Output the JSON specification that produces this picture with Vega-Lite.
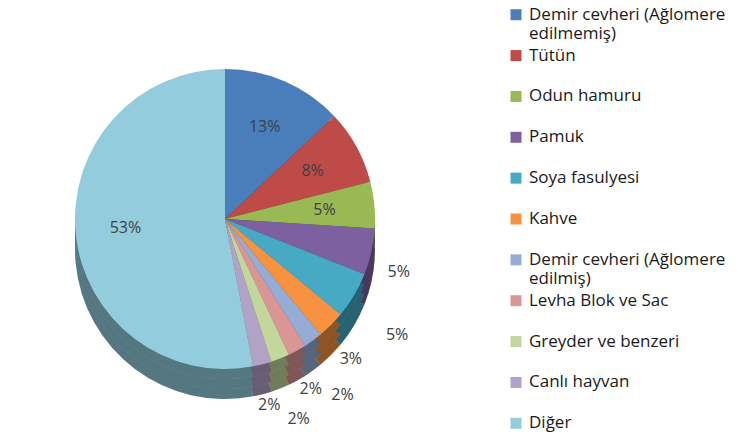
{
  "$schema": "https://vega.github.io/schema/vega-lite/v6.json",
  "padding": 0,
  "background": "white",
  "spacing": 60,
  "config": {"view": {"stroke": null}, "font": "Open Sans"},
  "datasets": {
    "rows": [
      {"item": "Demir cevheri (Ağlomere edilmemiş)", "share": 0.13, "order": 1},
      {"item": "Tütün", "share": 0.08, "order": 2},
      {"item": "Odun hamuru", "share": 0.05, "order": 3},
      {"item": "Pamuk", "share": 0.05, "order": 4},
      {"item": "Soya fasulyesi", "share": 0.05, "order": 5},
      {"item": "Kahve", "share": 0.03, "order": 6},
      {"item": "Demir cevheri (Ağlomere edilmiş)", "share": 0.02, "order": 7},
      {"item": "Levha Blok ve Sac", "share": 0.02, "order": 8},
      {"item": "Greyder ve benzeri", "share": 0.02, "order": 9},
      {"item": "Canlı hayvan", "share": 0.02, "order": 10},
      {"item": "Diğer", "share": 0.53, "order": 11}
    ]
  },
  "hconcat": [
    {
      "width": 450,
      "height": 438,
      "data": {"name": "rows"},
      "encoding": {
        "theta": {"field": "share", "type": "quantitative", "stack": true},
        "order": {"field": "order", "type": "quantitative", "sort": "ascending"},
        "color": {"field": "item", "type": "nominal", "sort": null, "legend": null,
          "scale": {"domain": ["Demir cevheri (Ağlomere edilmemiş)", "Tütün", "Odun hamuru", "Pamuk", "Soya fasulyesi", "Kahve", "Demir cevheri (Ağlomere edilmiş)", "Levha Blok ve Sac", "Greyder ve benzeri", "Canlı hayvan", "Diğer"],
            "range": ["#4A7EBB", "#BE4B48", "#98B954", "#7D60A0", "#46AAC5", "#F69240", "#95ACD6", "#D99694", "#C3D69B", "#B3A2C7", "#93CDDD"]}}
      },
      "layer": [
        {"mark": {"type": "arc", "outerRadius": 150, "yOffset": 30, "stroke": null}},
        {"mark": {"type": "arc", "outerRadius": 150, "yOffset": 30, "stroke": null, "fill": "#000000", "fillOpacity": 0.42}},
        {"mark": {"type": "arc", "outerRadius": 150, "yOffset": 20, "stroke": null}},
        {"mark": {"type": "arc", "outerRadius": 150, "yOffset": 20, "stroke": null, "fill": "#000000", "fillOpacity": 0.42}},
        {"mark": {"type": "arc", "outerRadius": 150, "yOffset": 10, "stroke": null}},
        {"mark": {"type": "arc", "outerRadius": 150, "yOffset": 10, "stroke": null, "fill": "#000000", "fillOpacity": 0.42}},
        {"mark": {"type": "arc", "outerRadius": 150, "stroke": null}},
        {
          "mark": {"type": "text", "radius": 100, "fontSize": 16, "font": "Open Sans"},
          "encoding": {
            "color": {"value": "#404040"},
            "text": {"field": "share", "type": "quantitative", "format": ".0%"},
            "opacity": {"condition": {"test": "datum.order <= 3 || datum.order == 11", "value": 1}, "value": 0}
          }
        },
        {
          "mark": {"type": "text", "radius": 178, "yOffset": 14, "fontSize": 16, "font": "Open Sans"},
          "encoding": {
            "color": {"value": "#404040"},
            "text": {"field": "share", "type": "quantitative", "format": ".0%"},
            "opacity": {"condition": {"test": "datum.order == 4 || datum.order == 6 || datum.order == 8 || datum.order == 10", "value": 1}, "value": 0}
          }
        },
        {
          "mark": {"type": "text", "radius": 200, "yOffset": 14, "fontSize": 16, "font": "Open Sans"},
          "encoding": {
            "color": {"value": "#404040"},
            "text": {"field": "share", "type": "quantitative", "format": ".0%"},
            "opacity": {"condition": {"test": "datum.order == 5 || datum.order == 7 || datum.order == 9", "value": 1}, "value": 0}
          }
        }
      ]
    },
    {
      "width": 230,
      "height": 438,
      "data": {"name": "rows"},
      "encoding": {
        "y": {"field": "item", "type": "nominal", "sort": {"field": "order"}, "axis": null,
          "scale": {"type": "point", "padding": 0.36}},
        "x": {"datum": 0, "type": "quantitative", "axis": null, "scale": {"domain": [0, 1]}}
      },
      "layer": [
        {
          "mark": {"type": "square", "size": 121, "opacity": 1},
          "encoding": {
            "color": {"field": "item", "type": "nominal", "sort": null, "legend": null,
              "scale": {"domain": ["Demir cevheri (Ağlomere edilmemiş)", "Tütün", "Odun hamuru", "Pamuk", "Soya fasulyesi", "Kahve", "Demir cevheri (Ağlomere edilmiş)", "Levha Blok ve Sac", "Greyder ve benzeri", "Canlı hayvan", "Diğer"],
                "range": ["#4A7EBB", "#BE4B48", "#98B954", "#7D60A0", "#46AAC5", "#F69240", "#95ACD6", "#D99694", "#C3D69B", "#B3A2C7", "#93CDDD"]}}
          }
        },
        {
          "mark": {"type": "text", "align": "left", "baseline": "middle", "dx": 13, "fontSize": 17, "font": "Open Sans", "color": "#1a1a1a", "lineHeight": 19},
          "encoding": {
            "text": {
              "condition": [
                {"test": "datum.order == 1", "value": ["Demir cevheri (Ağlomere", "edilmemiş)"]},
                {"test": "datum.order == 7", "value": ["Demir cevheri (Ağlomere", "edilmiş)"]}
              ],
              "field": "item", "type": "nominal"
            },
            "yOffset": {"condition": {"test": "datum.order == 1 || datum.order == 7", "value": 9}, "value": 0}
          }
        }
      ]
    }
  ],
  "resolve": {"scale": {"color": "shared"}}
}
